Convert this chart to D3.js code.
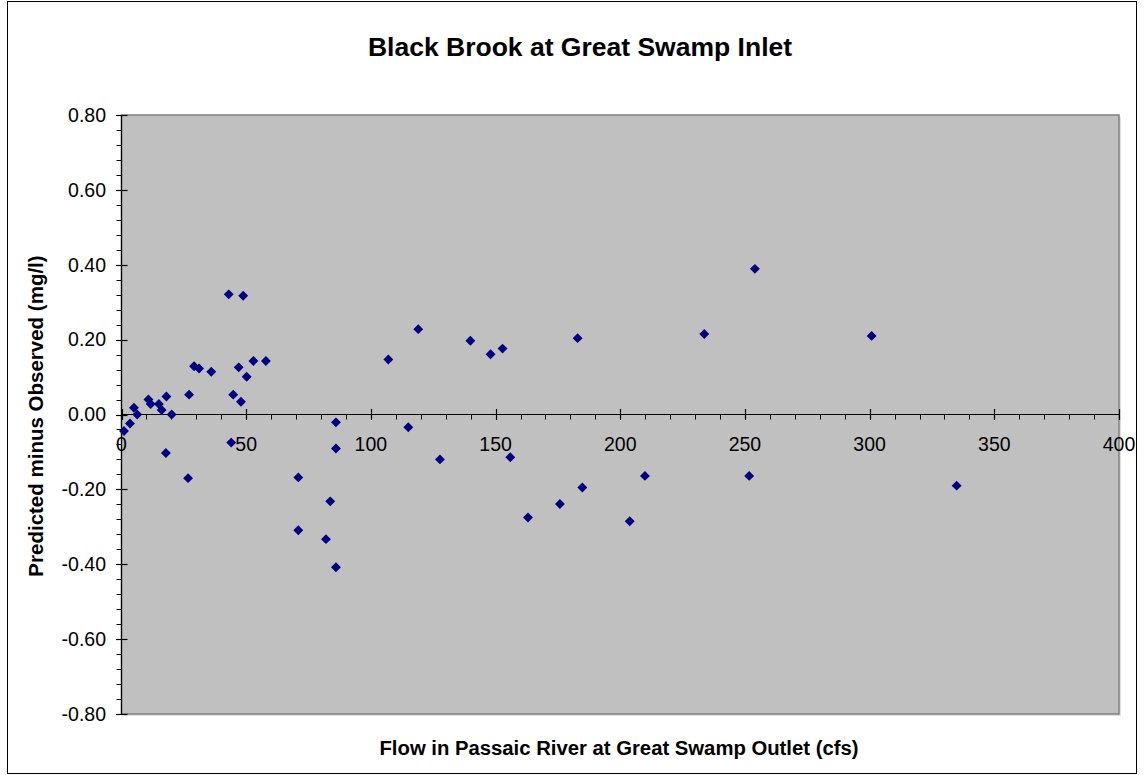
<!DOCTYPE html>
<html><head><meta charset="utf-8">
<script src="https://cdn.jsdelivr.net/npm/d3@7/dist/d3.min.js"></script>
<style>html,body{margin:0;padding:0;background:#fff;}svg{display:block;font-family:"Liberation Sans",Arial,sans-serif;}</style>
</head><body>
<script>
const title = "Black Brook at Great Swamp Inlet";
const xTitle = "Flow in Passaic River at Great Swamp Outlet (cfs)";
const yTitle = "Predicted minus Observed (mg/l)";
const flow = [1, 3.4, 5, 6.3, 10.8, 11.7, 15, 16.1, 18, 20.1, 27.1, 29.1, 31.1, 36, 43, 48.8, 44.8, 47, 47.9, 50.2, 52.9, 57.9, 44, 17.8, 26.7,
  86, 86, 115, 127.7, 70.9, 83.7, 70.9, 82, 86,
  107, 119, 139.9, 148, 152.8, 155.9, 163, 175.8,
  182.9, 233.7, 254, 184.8, 209.9, 203.8, 251.7, 300.8, 334.9];
const residual = [-0.044, -0.024, 0.018, 0.0, 0.04, 0.028, 0.028, 0.012, 0.048, 0.0, 0.053, 0.129, 0.123, 0.114, 0.321, 0.317, 0.053, 0.126, 0.034, 0.101, 0.143, 0.143, -0.075, -0.103, -0.17,
  -0.021, -0.091, -0.034, -0.12, -0.168, -0.232, -0.309, -0.333, -0.408,
  0.147, 0.228, 0.197, 0.161, 0.176, -0.114, -0.275, -0.239,
  0.204, 0.215, 0.389, -0.195, -0.164, -0.285, -0.164, 0.21, -0.19];
const xTicks = [0, 50, 100, 150, 200, 250, 300, 350, 400];
const yTicks = [-0.8, -0.6, -0.4, -0.2, 0, 0.2, 0.4, 0.6, 0.8];

const W = 1144, H = 775;
const L = 121.5, R = 1119, T = 115, B = 714;
const svg = d3.select("body").append("svg").attr("width", W).attr("height", H);

svg.append("rect").attr("x", 7.5).attr("y", 1.5).attr("width", 1129).attr("height", 772)
  .attr("fill", "#fff").attr("stroke", "#000").attr("stroke-width", 1);

const x = d3.scaleLinear().domain([0, 400]).range([L, R]);
const y = d3.scaleLinear().domain([-0.8, 0.8]).range([B, T]);

// plot area with shadow
svg.append("rect").attr("x", L + 2).attr("y", T + 2).attr("width", R - L).attr("height", B - T).attr("fill", "#e0e0e0");
svg.append("rect").attr("x", L).attr("y", T).attr("width", R - L).attr("height", B - T)
  .attr("fill", "#C0C0C0").attr("stroke", "#808080").attr("stroke-width", 1.5);

// title
svg.append("text").attr("x", 580).attr("y", 56).attr("text-anchor", "middle")
  .attr("font-size", 26.5).attr("font-weight", "bold").text(title);

// y axis
const yMinor = d3.range(-0.8, 0.8001, 0.04);
const yAxis = svg.append("g");
yAxis.append("line").attr("x1", L).attr("x2", L).attr("y1", T).attr("y2", B).attr("stroke", "#000").attr("stroke-width", 1.2);
yAxis.selectAll("line.minor").data(yMinor).join("line").attr("class", "minor")
  .attr("x1", L - 5).attr("x2", L).attr("y1", d => Math.round(y(d)) + 0.5).attr("y2", d => Math.round(y(d)) + 0.5)
  .attr("stroke", "#000");
yAxis.selectAll("line.major").data(yTicks).join("line").attr("class", "major")
  .attr("x1", L - 5.5).attr("x2", L + 6).attr("y1", d => Math.round(y(d)) + 0.5).attr("y2", d => Math.round(y(d)) + 0.5)
  .attr("stroke", "#000").attr("stroke-width", 1.2);
yAxis.selectAll("text").data(yTicks).join("text")
  .attr("x", 106).attr("y", d => y(d)).attr("dy", "0.35em").attr("text-anchor", "end")
  .attr("font-size", 19.5).text(d => d3.format(".2f")(d).replace("\u2212", "-"));

// x axis at y=0
const y0 = y(0);
const xMinor = d3.range(0, 401, 10);
const xAxis = svg.append("g");
xAxis.append("line").attr("x1", L).attr("x2", R).attr("y1", y0).attr("y2", y0).attr("stroke", "#000").attr("stroke-width", 1.2);
xAxis.selectAll("line.minor").data(xMinor).join("line").attr("class", "minor")
  .attr("x1", d => Math.round(x(d)) + 0.5).attr("x2", d => Math.round(x(d)) + 0.5).attr("y1", y0).attr("y2", y0 + 5)
  .attr("stroke", "#000");
xAxis.selectAll("line.major").data(xTicks).join("line").attr("class", "major")
  .attr("x1", d => Math.round(x(d)) + 0.5).attr("x2", d => Math.round(x(d)) + 0.5).attr("y1", y0 - 5.5).attr("y2", y0 + 5.5)
  .attr("stroke", "#000").attr("stroke-width", 1.2);
xAxis.selectAll("text").data(xTicks).join("text")
  .attr("x", d => x(d)).attr("y", y0 + 36).attr("text-anchor", "middle")
  .attr("font-size", 19.5).text(d => d);

// points
const diamond = d3.symbol().type(d3.symbolSquare).size(49);
svg.append("g").selectAll("path").data(flow.map((f, i) => [f, residual[i]])).join("path")
  .attr("d", diamond)
  .attr("transform", d => `translate(${x(d[0])},${y(d[1])}) rotate(45)`)
  .attr("fill", "#000080");

// axis titles
svg.append("text").attr("x", 619).attr("y", 755).attr("text-anchor", "middle")
  .attr("font-size", 20.3).attr("font-weight", "bold").text(xTitle);
svg.append("text").attr("transform", "translate(43,416) rotate(-90)").attr("text-anchor", "middle")
  .attr("font-size", 20.5).attr("font-weight", "bold").text(yTitle);
</script>
</body></html>
